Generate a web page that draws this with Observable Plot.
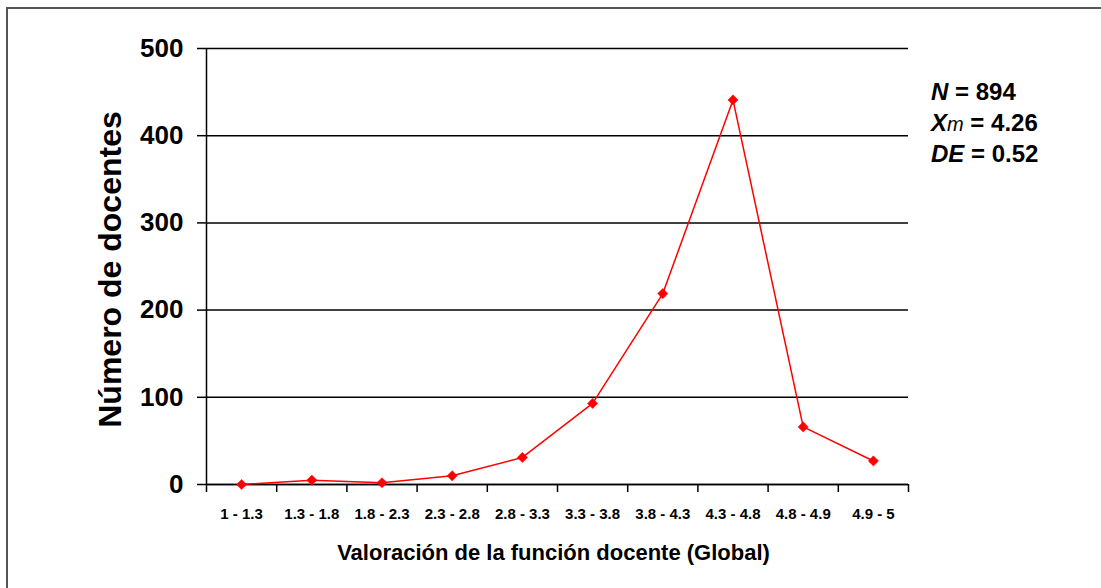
<!DOCTYPE html>
<html>
<head>
<meta charset="utf-8">
<script src="https://cdn.jsdelivr.net/npm/d3@7"></script>
<script src="https://cdn.jsdelivr.net/npm/@observablehq/plot@0.6"></script>
<style>
  html, body { margin: 0; padding: 0; background: #fff; overflow: hidden; }
  #wrap { position: relative; width: 1101px; height: 588px; overflow: hidden; }
  #border { position: absolute; left: 6px; top: 7px; width: 1200px; height: 700px;
            border-top: 2px solid #555; border-left: 2px solid #555; }
  #chart { position: absolute; left: 0; top: 0; }
  #note { position: absolute; left: 0; top: 0; }
</style>
</head>
<body>
<div id="wrap"><div id="border"></div><div id="chart"></div><svg id="note" width="1101" height="588"></svg></div>
<script>
const categories = ["1 - 1.3","1.3 - 1.8","1.8 - 2.3","2.3 - 2.8","2.8 - 3.3","3.3 - 3.8","3.8 - 4.3","4.3 - 4.8","4.8 - 4.9","4.9 - 5"];
const counts = [0, 5, 2, 10, 31, 93, 219, 441, 66, 27];
const yTicks = [0, 100, 200, 300, 400, 500];
const xTitle = "Valoración de la función docente (Global)";
const yTitle = "Número de docentes";
const stats = [
  {label: "N", sub: "", value: "894"},
  {label: "X", sub: "m", value: "4.26"},
  {label: "DE", sub: "", value: "0.52"}
];

const data = categories.map((c, i) => ({i, c, v: counts[i]}));
const centers = categories.map((c, i) => i);
const bounds = d3.range(categories.length + 1).map(k => k - 0.5);
const font = "'Liberation Sans', Arial, sans-serif";

const chart = Plot.plot({
  width: 1101,
  height: 588,
  marginLeft: 206,
  marginRight: 193,
  marginTop: 48,
  marginBottom: 104,
  style: {fontFamily: font, background: "transparent", overflow: "visible"},
  x: {type: "linear", domain: [-0.5, categories.length - 0.5]},
  y: {domain: [0, 500]},
  marks: [
    Plot.gridY(yTicks, {stroke: "#000", strokeOpacity: 1, strokeWidth: 1.5}),
    Plot.axisY(yTicks, {tickSize: 9, tickPadding: 14, fontSize: 26, fontWeight: "bold", stroke: "#000", strokeWidth: 1.5, label: null, fill: "#000"}),
    Plot.axisX(bounds, {tickSize: 8, tickFormat: () => "", stroke: "#000", strokeWidth: 1.5, label: null}),
    Plot.axisX(centers, {tickSize: 0, tickPadding: 24, tickFormat: i => categories[i], fontSize: 15, fontWeight: "bold", label: null, fill: "#000", ariaLabel: "xcat"}),
    Plot.ruleY([0], {stroke: "#000", strokeWidth: 1.5}),
    Plot.ruleX([-0.5], {stroke: "#000", strokeWidth: 1.5}),
    Plot.line(data, {x: "i", y: "v", stroke: "#ff0000", strokeWidth: 1.5}),
    Plot.dot(data, {x: "i", y: "v", symbol: "diamond2", r: 4.6, fill: "#ff0000", stroke: "#ff0000", strokeWidth: 0.5}),
    Plot.text([xTitle], {frameAnchor: "bottom", dy: 75, dx: -4, fontSize: 22, fontWeight: "bold", fill: "#000"}),
    Plot.text([yTitle], {frameAnchor: "left", textAnchor: "middle", dx: -96, dy: 3, rotate: -90, fontSize: 32, fontWeight: "bold", fill: "#000"})
  ]
});
document.getElementById("chart").appendChild(chart);

// condense the category labels horizontally (narrow bold face in the original)
d3.select(chart).selectAll('g[aria-label="xcat"] text').each(function() {
  const tr = this.getAttribute("transform") || "";
  this.setAttribute("transform", tr + " scale(0.8,1)");
});

const note = d3.select("#note");
stats.forEach((s, k) => {
  const t = note.append("text")
    .attr("x", 931).attr("y", 100 + k * 31)
    .attr("font-family", font).attr("font-size", 24).attr("font-weight", "bold").attr("fill", "#000");
  t.append("tspan").attr("font-style", "italic").text(s.label);
  if (s.sub) t.append("tspan").attr("font-style", "italic").attr("font-weight", "normal").attr("font-size", 20).text(s.sub);
  t.append("tspan").text(" = " + s.value);
});
</script>
</body>
</html>
